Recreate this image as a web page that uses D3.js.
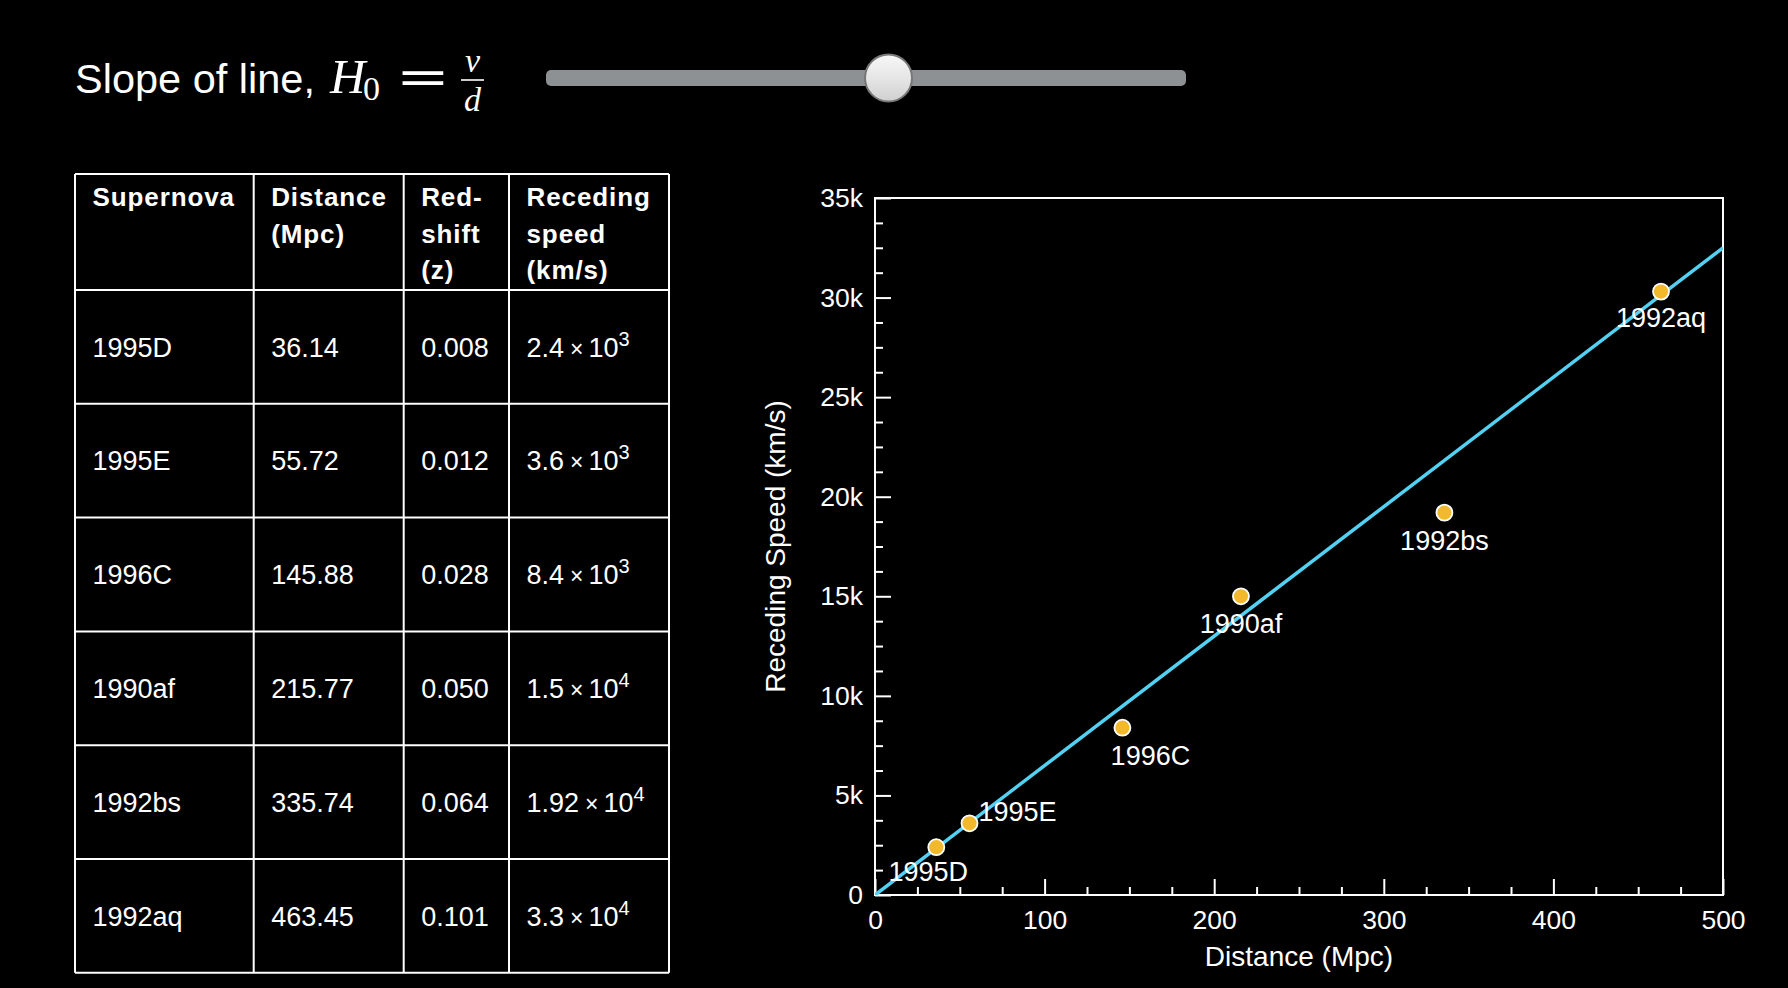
<!DOCTYPE html>
<html>
<head>
<meta charset="utf-8">
<script src="https://cdn.jsdelivr.net/npm/d3@7/dist/d3.min.js"></script>
<style>
  html, body { margin: 0; padding: 0; background: #000; }
  svg { display: block; }
  text { font-family: "Liberation Sans", Arial, Helvetica, sans-serif; fill: #fff; }
</style>
</head>
<body>
<svg id="chart" width="1788" height="988"></svg>
<script>
// ---------------- data ----------------
const supernovae   = ["1995D", "1995E", "1996C", "1990af", "1992bs", "1992aq"];
const distances    = [36.14, 55.72, 145.88, 215.77, 335.74, 463.45];
const redshifts    = ["0.008", "0.012", "0.028", "0.050", "0.064", "0.101"];
const speedMantissa = ["2.4", "3.6", "8.4", "1.5", "1.92", "3.3"];
const speedExponent = ["3", "3", "3", "4", "4", "4"];
const plottedSpeeds = [2400, 3600, 8400, 15000, 19200, 30300];
const headerLines  = [["Supernova"], ["Distance", "(Mpc)"], ["Red-", "shift", "(z)"], ["Receding", "speed", "(km/s)"]];
const hubbleSlope  = 65;          // km/s per Mpc (slider value)
const sliderDomain = [0, 120];
const xTicks = [0, 100, 200, 300, 400, 500];
const yTicks = [0, 5000, 10000, 15000, 20000, 25000, 30000, 35000];
const xDomain = [0, 500];
const yDomain = [0, 35000];
// label placement (dx, dy from point, anchor)
const labelPlacement = [
  {dx: -8, dy: 34, anchor: "middle"},
  {dx: 9, dy: -2, anchor: "start"},
  {dx: 28, dy: 37, anchor: "middle"},
  {dx: 0, dy: 37, anchor: "middle"},
  {dx: 0, dy: 37, anchor: "middle"},
  {dx: 0, dy: 35, anchor: "middle"}
];

const svg = d3.select("#chart");
svg.append("rect").attr("width", 1788).attr("height", 988).attr("fill", "#000");

// ---------------- title + slider ----------------
const title = svg.append("g");
title.append("text").attr("x", 75).attr("y", 93).attr("font-size", 41.5).text("Slope of line,");
const serif = '"Liberation Serif", "DejaVu Serif", serif';
title.append("text").attr("x", 330).attr("y", 93).attr("font-size", 49)
  .style("font-family", serif).style("font-style", "italic").text("H");
title.append("text").attr("x", 363).attr("y", 100).attr("font-size", 34)
  .style("font-family", serif).text("0");
title.append("text").attr("transform", "translate(423,94) scale(1.35,1)")
  .attr("font-size", 48).attr("text-anchor", "middle")
  .style("font-family", '"DejaVu Serif", serif').text("=");
title.append("text").attr("x", 472.5).attr("y", 72).attr("font-size", 34).attr("text-anchor", "middle")
  .style("font-family", serif).style("font-style", "italic").text("v");
title.append("line").attr("x1", 461).attr("x2", 484).attr("y1", 80).attr("y2", 80)
  .attr("stroke", "#fff").attr("stroke-width", 1.6);
title.append("text").attr("x", 472.5).attr("y", 111).attr("font-size", 34).attr("text-anchor", "middle")
  .style("font-family", serif).style("font-style", "italic").text("d");

const defs = svg.append("defs");
const grad = defs.append("linearGradient").attr("id", "thumbGrad").attr("x1", 0).attr("x2", 0).attr("y1", 0).attr("y2", 1);
grad.append("stop").attr("offset", "0%").attr("stop-color", "#f7f7f7");
grad.append("stop").attr("offset", "50%").attr("stop-color", "#e6e6e6");
grad.append("stop").attr("offset", "100%").attr("stop-color", "#cfcfcf");

const sliderScale = d3.scaleLinear().domain(sliderDomain).range([570, 1158]);
svg.append("rect").attr("x", 546).attr("y", 70).attr("width", 640).attr("height", 16)
  .attr("rx", 5).attr("fill", "#8d9194");
svg.append("circle").attr("cx", sliderScale(hubbleSlope)).attr("cy", 78).attr("r", 23.5)
  .attr("fill", "url(#thumbGrad)").attr("stroke", "#777").attr("stroke-width", 2);

// ---------------- table ----------------
const colX = [75, 253.7, 403.7, 509, 669];
const tableTop = 174, headerH = 116, rowH = 113.8;
const nRows = supernovae.length;
const tbl = svg.append("g");
const rowY = d3.range(nRows + 1).map(i => tableTop + headerH + i * rowH);
const tableBottom = rowY[nRows];
tbl.selectAll("line.h").data([tableTop].concat(rowY)).join("line")
  .attr("x1", colX[0]).attr("x2", colX[4]).attr("y1", d => d).attr("y2", d => d)
  .attr("stroke", "#fff").attr("stroke-width", 2);
tbl.selectAll("line.v").data(colX).join("line")
  .attr("y1", tableTop).attr("y2", tableBottom).attr("x1", d => d).attr("x2", d => d)
  .attr("stroke", "#fff").attr("stroke-width", 2);
const pad = 17.5;
headerLines.forEach((lines, c) => {
  const t = tbl.append("text").attr("font-size", 26).attr("font-weight", "bold")
    .attr("letter-spacing", 0.9);
  lines.forEach((ln, k) => {
    t.append("tspan").attr("x", colX[c] + pad).attr("y", 206 + k * 36.7).text(ln);
  });
});
supernovae.forEach((name, i) => {
  const cy = rowY[i] + rowH / 2 + 9.6;
  tbl.append("text").attr("x", colX[0] + pad).attr("y", cy).attr("font-size", 27).text(name);
  tbl.append("text").attr("x", colX[1] + pad).attr("y", cy).attr("font-size", 27).text(d3.format(".2f")(distances[i]));
  tbl.append("text").attr("x", colX[2] + pad).attr("y", cy).attr("font-size", 27).text(redshifts[i]);
  const s = tbl.append("text").attr("x", colX[3] + pad).attr("y", cy).attr("font-size", 27);
  s.append("tspan").text(speedMantissa[i]);
  s.append("tspan").attr("dx", 6).attr("font-size", 23).text("×");
  s.append("tspan").attr("dx", 5).text("10");
  s.append("tspan").attr("dy", -11).attr("font-size", 20).text(speedExponent[i]);
});

// ---------------- scatter plot ----------------
const plot = {left: 875, right: 1723, top: 198, bottom: 895};
const x = d3.scaleLinear().domain(xDomain).range([plot.left, plot.right]);
const y = d3.scaleLinear().domain(yDomain).range([plot.bottom, plot.top]);

const g = svg.append("g");
const xMinor = d3.range(xDomain[0], xDomain[1] + 1, 25).filter(v => v % 100 !== 0);
const yMinor = d3.range(yDomain[0], yDomain[1] + 1, 1250).filter(v => v % 5000 !== 0);

g.append("g").attr("transform", `translate(0,${plot.bottom})`)
  .call(d3.axisBottom(x).tickValues(xMinor).tickSize(-8).tickFormat(""))
  .call(a => a.select(".domain").remove());
g.append("g").attr("transform", `translate(${plot.left},0)`)
  .call(d3.axisLeft(y).tickValues(yMinor).tickSize(-8).tickFormat(""))
  .call(a => a.select(".domain").remove());
g.append("g").attr("transform", `translate(0,${plot.bottom})`)
  .call(d3.axisBottom(x).tickValues(xTicks).tickSize(-16).tickPadding(15).tickFormat(d3.format("d")))
  .call(a => a.select(".domain").remove());
g.append("g").attr("transform", `translate(${plot.left},0)`)
  .call(d3.axisLeft(y).tickValues(yTicks).tickSize(-16).tickPadding(12).tickFormat(d3.format("~s")))
  .call(a => a.select(".domain").remove());
g.selectAll(".tick line").attr("stroke", "#fff").attr("stroke-width", 2);
g.selectAll(".tick text").attr("fill", "#fff").attr("font-size", 26.5)
  .style("font-family", '"Liberation Sans", Arial, sans-serif');

g.append("rect").attr("x", plot.left).attr("y", plot.top)
  .attr("width", plot.right - plot.left).attr("height", plot.bottom - plot.top)
  .attr("fill", "none").attr("stroke", "#fff").attr("stroke-width", 2);

g.append("text").attr("x", (plot.left + plot.right) / 2).attr("y", 966)
  .attr("text-anchor", "middle").attr("font-size", 28).text("Distance (Mpc)");
g.append("text").attr("transform", `translate(785,${(plot.top + plot.bottom) / 2}) rotate(-90)`)
  .attr("text-anchor", "middle").attr("font-size", 28).text("Receding Speed (km/s)");

defs.append("clipPath").attr("id", "plotClip").append("rect")
  .attr("x", plot.left).attr("y", plot.top)
  .attr("width", plot.right - plot.left).attr("height", plot.bottom - plot.top);
const lineData = xDomain.map(d => [d, d * hubbleSlope]);
g.append("path").datum(lineData).attr("clip-path", "url(#plotClip)")
  .attr("d", d3.line().x(d => x(d[0])).y(d => y(d[1])))
  .attr("stroke", "#52d1f3").attr("stroke-width", 3.5).attr("fill", "none");

const pts = supernovae.map((n, i) => ({name: n, d: distances[i], v: plottedSpeeds[i], p: labelPlacement[i]}));
g.selectAll("circle.pt").data(pts).join("circle").attr("class", "pt")
  .attr("cx", d => x(d.d)).attr("cy", d => y(d.v)).attr("r", 8)
  .attr("fill", "#f2b92d").attr("stroke", "#fff").attr("stroke-width", 1.8);
g.selectAll("text.lbl").data(pts).join("text").attr("class", "lbl")
  .attr("x", d => x(d.d) + d.p.dx).attr("y", d => y(d.v) + d.p.dy)
  .attr("text-anchor", d => d.p.anchor).attr("font-size", 27).text(d => d.name);
</script>
</body>
</html>
